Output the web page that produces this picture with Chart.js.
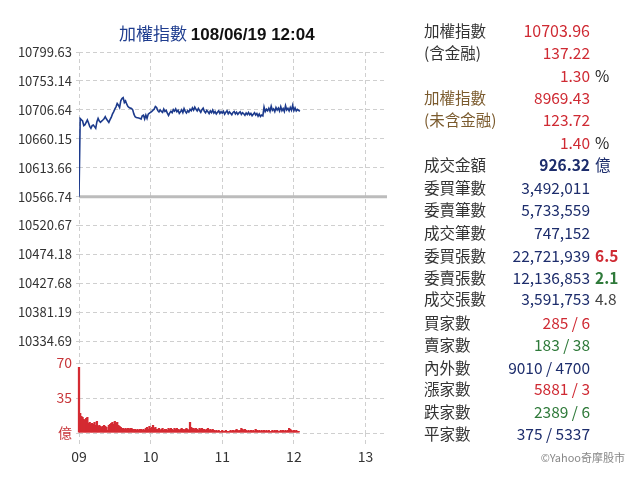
<!DOCTYPE html>
<html><head><meta charset="utf-8">
<script src="https://cdn.jsdelivr.net/npm/chart.js@4"></script>
<style>
html,body{margin:0;padding:0;background:#fff;width:644px;height:483px;overflow:hidden;font-family:"Noto Sans CJK TC","Noto Sans",sans-serif;}
#cv{position:absolute;left:0;top:0;}
#title{position:absolute;left:119px;top:20px;line-height:26px;font-size:17px;white-space:nowrap;}
#title .a{color:#1f3d8f;}
#title .b{color:#111;font-weight:bold;font-family:"Liberation Sans",Arial,sans-serif;font-size:17px;}
.t{position:absolute;line-height:20px;white-space:nowrap;}
</style></head>
<body>
<canvas id="cv" width="644" height="483"></canvas>
<div id="title"><span class="a">加權指數</span> <span class="b">108/06/19 12:04</span></div>
<div id="panel"></div>
<script>
// ---------- data ----------
const PREV_CLOSE = 10566.74;
const priceTicks = [10799.63,10753.14,10706.64,10660.15,10613.66,10566.74,10520.67,10474.18,10427.68,10381.19,10334.69];
const hourTicks = [0,60,120,180,240];
const hourLabels = ['09','10','11','12','13'];
const volumeTicks = [0,35,70];
const volumeTickLabels = ['億','35','70'];
// index value per minute from 09:00
const indexValues = [
10566.74,
10692.8,10690.7,10688.6,10681.2,10682.7,10686.5,10690.2,10685.4,10680.1,10676.9,
10681.2,10682.2,10679.6,10676.9,10687.5,10692.8,10688.6,10686.5,10688.6,10690.2,
10692.3,10695.5,10691.8,10689.1,10686.5,10690.7,10694.4,10699.7,10703.4,10707.7,
10711.4,10716.7,10714.1,10710.4,10721.0,10724.7,10726.3,10718.3,10721.0,10715.7,
10711.9,10710.4,10709.3,10708.8,10706.6,10699.7,10695.5,10694.4,10693.9,10693.4,
10692.8,10691.8,10697.1,10698.1,10691.8,10698.1,10692.8,10699.7,10701.3,10702.4,
10704.0,10706.1,10707.7,10711.9,10710.4,
10705.2,10703.1,10706.4,10704.0,10702.5,10707.8,10703.9,10705.6,10701.2,10697.5,
10701.8,10704.3,10702.0,10706.9,10704.5,10708.2,10703.6,10705.9,10700.8,10703.4,
10706.7,10702.2,10708.5,10704.1,10701.5,10705.3,10703.0,10707.4,10705.1,10709.8,
10706.2,10711.0,10707.5,10704.8,10708.9,10705.4,10702.6,10706.8,10709.3,10704.2,
10701.9,10705.7,10703.4,10700.6,10704.9,10702.1,10706.3,10701.4,10703.8,10699.9,
10702.7,10705.0,10700.8,10703.6,10701.2,10704.4,10699.5,10702.9,10705.1,10700.3,
10703.2,10701.0,10698.6,10702.4,10704.0,10700.1,10702.8,10699.4,10701.7,10703.5,
10699.2,10702.0,10700.4,10697.8,10701.6,10699.0,10702.3,10698.5,10700.9,10697.2,
10699.6,10702.1,10698.3,10700.7,10696.4,10699.8,10695.9,10698.2,10696.8,10711.0,
10703.8,10707.5,10705.0,10709.1,10704.3,10712.6,10705.8,10708.0,10703.6,10710.2,
10706.1,10709.4,10704.7,10711.8,10705.3,10708.6,10704.0,10713.2,10706.4,10709.0,
10704.8,10710.5,10706.0,10713.8,10705.2,10709.7,10704.9,10707.3,10705.6,10703.96
];
// traded value per minute (億)
const volumeValues = [
66,20,17,16,14,13,15,16,
10,11,9,10,9,11,8,12,
7,8,7,6,7,8,7,6,3,
8,9,10,11,9,12,10,11,8,7,6,
5,5,4,5,4,5,4,5,5,4,
4,4,3,4,3,4,4,3,4,3,
5,6,4,7,5,6,8,5,6,4,
4,5,3,4,5,3,4,4,3,5,
4,5,4,3,5,4,5,4,3,4,
5,4,3,4,5,4,3,11,6,5,
5,4,5,4,3,5,4,5,4,4,
3,4,5,3,4,3,4,3,2,3,
2,3,2,2,3,2,2,3,2,2,
2,3,2,3,2,3,4,3,2,3,
5,4,3,4,3,2,3,2,3,2,
3,2,4,3,2,3,2,3,2,3,
2,3,2,3,2,2,3,2,3,2,
3,2,2,3,2,3,2,3,2,3,
5,4,3,2,3,2,3,2,2
];
// right-hand info panel
const panelLabels = ['加權指數','(含金融)','','加權指數','(未含金融)','','成交金額','委買筆數','委賣筆數','成交筆數','委買張數','委賣張數','成交張數','買家數','賣家數','內外數','漲家數','跌家數','平家數'];
const panelValues = ['10703.96','137.22','1.30','8969.43','123.72','1.40','926.32','3,492,011','5,733,559','747,152','22,721,939','12,136,853','3,591,753','285 / 6','183 / 38','9010 / 4700','5881 / 3','2389 / 6','375 / 5337'];
const panelSuffix = ['','','%','','','%','億','','','','6.5','2.1','4.8','','','','','',''];

// ---------- styles ----------
const RED='#cf2a33', NAVY='#1d2d6c', GREEN='#2f7a3a', GRAY='#333';
const labelColors = [GRAY,GRAY,GRAY,'#7b5b2e','#7b5b2e',GRAY,GRAY,GRAY,GRAY,GRAY,GRAY,GRAY,GRAY,GRAY,GRAY,GRAY,GRAY,GRAY,GRAY];
const valueColors = [RED,RED,RED,RED,RED,RED,NAVY,NAVY,NAVY,NAVY,NAVY,NAVY,NAVY,RED,GREEN,NAVY,RED,GREEN,NAVY];
const suffixColors = ['','','#222','','','#222',NAVY,'','','',RED,GREEN,'#444','','','','','',''];
const suffixBold = [false,false,false,false,false,false,false,false,false,false,true,true,false,false,false,false,false,false,false];
const rowY = [30,52,75,97,119,142,164,187,209,232,255,277,298,322,344,367,388,411,433];

const panel = document.getElementById('panel');
panelLabels.forEach((lab,i)=>{
  const y = rowY[i]-10;
  if(lab){const d=document.createElement('div');d.className='t';d.style.left='424px';d.style.top=y+'px';d.style.fontSize='15.5px';d.style.color=labelColors[i];d.textContent=lab;panel.appendChild(d);}
  const v=document.createElement('div');v.className='t';v.style.right=(644-590)+'px';v.style.top=y+'px';v.style.fontSize='15.5px';v.style.color=valueColors[i];v.textContent=panelValues[i];
  if(i===0){v.style.fontSize='16px';}
  if(i===6){v.style.fontWeight='bold';}
  panel.appendChild(v);
  if(panelSuffix[i]){const s=document.createElement('div');s.className='t';s.style.left='595px';s.style.top=y+'px';s.style.fontSize='15.5px';s.style.color=suffixColors[i];s.textContent=panelSuffix[i];if(suffixBold[i])s.style.fontWeight='bold';panel.appendChild(s);}
});
const c=document.createElement('div');c.className='t';c.style.right='19px';c.style.top='447px';c.style.fontSize='11px';c.style.color='#888';c.textContent='©Yahoo奇摩股市';panel.appendChild(c);

// ---------- chart ----------
const X_MAX = 258;
const priceData = indexValues.map((v,i)=>({x:i,y:v}));
const volData = volumeValues.map((v,i)=>({x:i,y:v}));
const gridCol = '#cfcfcf';
const FONT = '"Noto Sans CJK TC","Noto Sans",sans-serif';

new Chart(document.getElementById('cv'),{
  type:'line',
  data:{datasets:[
    {type:'line',data:priceData,yAxisID:'y',borderColor:'#1c3a8c',borderWidth:1.6,pointRadius:0,tension:0,order:1},
    {type:'bar',data:volData,yAxisID:'yv',backgroundColor:'#d42a32',barPercentage:1.9,categoryPercentage:1,borderWidth:0,order:2,clip:false},
    {type:'line',data:[{x:0,y:PREV_CLOSE},{x:X_MAX,y:PREV_CLOSE}],yAxisID:'y',borderColor:'#bcbcbc',borderWidth:3,pointRadius:0,order:3}
  ]},
  options:{
    responsive:false,animation:false,
    layout:{padding:{left:0,top:52,right:644-387,bottom:0}},
    plugins:{legend:{display:false},tooltip:{enabled:false},title:{display:false}},
    scales:{
      x:{type:'linear',min:0,max:X_MAX,offset:false,
        afterBuildTicks:s=>{s.ticks=hourTicks.map(v=>({value:v}));},
        afterFit:s=>{s.height=50;},
        ticks:{callback:v=>hourLabels[hourTicks.indexOf(v)],color:'#333',font:{family:FONT,size:14},padding:1,maxRotation:0,autoSkip:false},
        grid:{color:gridCol,tickLength:14,tickBorderDash:[4,3],tickColor:gridCol,offset:false},
        border:{display:false,dash:[4,3]}
      },
      yv:{type:'linear',position:'left',stack:'main',stackWeight:92,min:0,max:92,
        afterBuildTicks:s=>{s.ticks=volumeTicks.map(v=>({value:v}));},
        afterFit:s=>{s.width=79;},
        ticks:{callback:v=>volumeTickLabels[volumeTicks.indexOf(v)],color:'#c8363a',font:{family:FONT,size:14},padding:4,autoSkip:false},
        grid:{color:gridCol,tickLength:3,tickBorderDash:[4,3],tickColor:gridCol},
        border:{display:false,dash:[4,3]}
      },
      y:{type:'linear',position:'left',stack:'main',stackWeight:289,min:10334.69,max:10799.63,
        afterBuildTicks:s=>{s.ticks=priceTicks.map(v=>({value:v}));},
        afterFit:s=>{s.width=79;},
        ticks:{callback:v=>v.toFixed(2),color:'#333',font:{family:FONT,size:13},padding:4,autoSkip:false},
        grid:{color:gridCol,tickLength:3,tickBorderDash:[4,3],tickColor:gridCol},
        border:{display:false,dash:[4,3]}
      }
    }
  }
});
</script>
</body></html>
